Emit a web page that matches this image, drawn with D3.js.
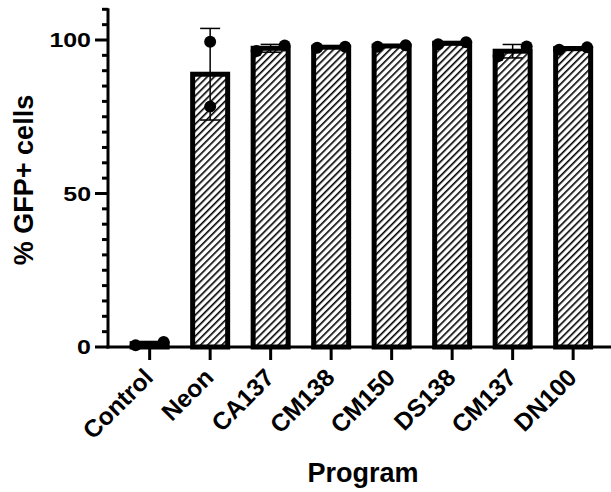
<!DOCTYPE html>
<html>
<head>
<meta charset="utf-8">
<script src="https://cdn.jsdelivr.net/npm/d3@7"></script>
<style>
  body { margin: 0; background: #fff; }
  text { font-family: "Liberation Sans", Arial, sans-serif; font-weight: bold; fill: #000; }
</style>
</head>
<body>
<script>
// data (two replicates per program)
var programs = ["Control", "Neon", "CA137", "CM138", "CM150", "DS138", "CM137", "DN100"];
var rep1 = [0.6, 99.4, 96.4, 97.5, 97.8, 98.6, 94.8, 96.8];
var rep2 = [1.6, 78.3, 98.2, 97.8, 98.3, 99.3, 97.9, 97.6];
var yTicks = [0, 50, 100];

var W = 611, H = 492;
var margin = {top: 9, right: 0, bottom: 145, left: 108};

var svg = d3.select("body").append("svg")
  .attr("width", W).attr("height", H);

// hatch
var defs = svg.append("defs");
defs.append("pattern")
  .attr("id", "hatch")
  .attr("patternUnits", "userSpaceOnUse")
  .attr("width", 5).attr("height", 5)
  .attr("patternTransform", "rotate(45)")
  .append("rect")
  .attr("x", 0).attr("y", 0)
  .attr("width", 1.6).attr("height", 5)
  .attr("fill", "#000");

var x = d3.scaleBand()
  .domain(programs)
  .range([119.4, 603.4])
  .padding(0);

var y = d3.scaleLinear()
  .domain([0, 110])
  .range([347, 9.3]);

var rows = programs.map(function(p, i) {
  var vals = [rep1[i], rep2[i]];
  var m = d3.mean(vals);
  var sd = d3.deviation(vals);
  return {name: p, vals: vals, mean: m, sd: sd};
});

var barW = 35, r = 6;
function cx(name) { return x(name) + x.bandwidth()/2; }

// bars
svg.selectAll(".bar")
  .data(rows).enter()
  .append("rect")
  .attr("class", "bar")
  .attr("x", function(d) { return cx(d.name) - barW/2; })
  .attr("y", function(d) { return y(d.mean); })
  .attr("width", barW)
  .attr("height", function(d) { return y(0) - y(d.mean); })
  .attr("fill", "url(#hatch)")
  .attr("stroke", "#000")
  .attr("stroke-width", 5);

// error bars (mean +/- SD)
var eb = svg.selectAll(".err")
  .data(rows).enter()
  .append("g")
  .attr("class", "err")
  .attr("stroke", "#000")
  .attr("stroke-width", 1.5);
eb.append("line")
  .attr("x1", function(d) { return cx(d.name); })
  .attr("x2", function(d) { return cx(d.name); })
  .attr("y1", function(d) { return y(d.mean - d.sd); })
  .attr("y2", function(d) { return y(d.mean + d.sd); });
[-1, 1].forEach(function(s) {
  eb.append("line")
    .attr("x1", function(d) { return cx(d.name) - 10; })
    .attr("x2", function(d) { return cx(d.name) + 10; })
    .attr("y1", function(d) { return y(d.mean + s*d.sd); })
    .attr("y2", function(d) { return y(d.mean + s*d.sd); });
});

// replicate points, spread sideways only when they would overlap
var pts = [];
rows.forEach(function(d) {
  var clash = Math.abs(y(d.vals[0]) - y(d.vals[1])) < 2 * r + 2;
  pts.push({name: d.name, v: d.vals[0], off: clash ? -14 : 0});
  pts.push({name: d.name, v: d.vals[1], off: clash ? 14 : 0});
});
svg.selectAll(".pt")
  .data(pts).enter()
  .append("circle")
  .attr("class", "pt")
  .attr("cx", function(d) { return cx(d.name) + d.off; })
  .attr("cy", function(d) { return y(d.v); })
  .attr("r", r)
  .attr("fill", "#000");

// y axis
var yAxis = svg.append("g")
  .attr("transform", "translate(" + margin.left + ",0)");
yAxis.append("line")
  .attr("x1", 0).attr("x2", 0)
  .attr("y1", y(110) - 1).attr("y2", y(0) + 1.5)
  .attr("stroke", "#000").attr("stroke-width", 3);
yAxis.selectAll(".minor")
  .data(d3.range(0, 111, 5)).enter()
  .append("line")
  .attr("x1", function(d) { return d % 50 === 0 ? -13 : -6; })
  .attr("x2", 0)
  .attr("y1", function(d) { return y(d); })
  .attr("y2", function(d) { return y(d); })
  .attr("stroke", "#000").attr("stroke-width", 3);
yAxis.selectAll(".ylab")
  .data(yTicks).enter()
  .append("text")
  .attr("transform", function(d) { return "translate(-17," + y(d) + ")scale(1.28,1)"; })
  .attr("dy", "0.36em")
  .attr("text-anchor", "end")
  .style("font-size", "19.5px")
  .text(function(d) { return d; });

// x axis
var xAxis = svg.append("g");
xAxis.append("line")
  .attr("x1", margin.left - 1.5).attr("x2", W)
  .attr("y1", y(0)).attr("y2", y(0))
  .attr("stroke", "#000").attr("stroke-width", 3);
xAxis.selectAll(".xt")
  .data(programs).enter()
  .append("line")
  .attr("x1", function(d) { return cx(d); })
  .attr("x2", function(d) { return cx(d); })
  .attr("y1", y(0)).attr("y2", y(0) + 13)
  .attr("stroke", "#000").attr("stroke-width", 3);
xAxis.selectAll(".xlab")
  .data(programs).enter()
  .append("text")
  .attr("transform", function(d) {
    return "translate(" + (cx(d) + 5) + "," + (y(0) + 32) + ")rotate(-45)";
  })
  .attr("text-anchor", "end")
  .style("font-size", "24.5px")
  .text(function(d) { return d; });

// axis titles
svg.append("text")
  .attr("transform", "translate(33,180)rotate(-90)")
  .attr("text-anchor", "middle")
  .style("font-size", "27px")
  .text("% GFP+ cells");
svg.append("text")
  .attr("x", 363).attr("y", 482)
  .attr("text-anchor", "middle")
  .style("font-size", "27px")
  .text("Program");
</script>
</body>
</html>
